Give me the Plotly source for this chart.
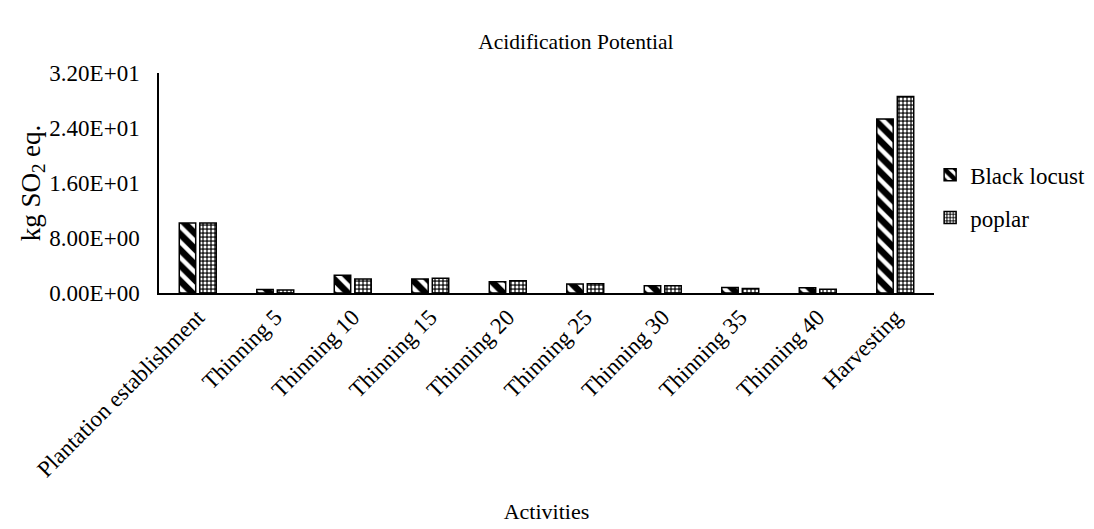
import plotly.graph_objects as go

categories = ["Plantation establishment", "Thinning 5", "Thinning 10", "Thinning 15",
              "Thinning 20", "Thinning 25", "Thinning 30", "Thinning 35", "Thinning 40",
              "Harvesting"]
black_locust = [10.2, 0.5, 2.57, 2.05, 1.65, 1.3, 1.07, 0.8, 0.78, 25.3]
poplar = [10.2, 0.45, 2.03, 2.13, 1.8, 1.35, 1.05, 0.65, 0.55, 28.6]
y_tickvals = [0, 8, 16, 24, 32]
y_ticktext = ["0.00E+00", "8.00E+00", "1.60E+01", "2.40E+01", "3.20E+01"]

FONT = "Liberation Serif, Times New Roman, serif"

fig = go.Figure()
fig.add_trace(go.Bar(
    x=categories, y=black_locust, name="Black locust", legendgroup="a",
    marker=dict(color="white", line=dict(color="black", width=1.5),
                pattern=dict(shape="\\", fgcolor="black", bgcolor="white",
                             size=11, solidity=0.6, fillmode="replace")),
))
fig.add_trace(go.Bar(
    x=categories, y=poplar, name="poplar", legendgroup="b",
    marker=dict(color="black", line=dict(color="black", width=1.5),
                pattern=dict(shape=".", fgcolor="white", bgcolor="#222222",
                             size=4, solidity=0.45, fillmode="replace")),
))

fig.update_layout(
    width=1094, height=529,
    paper_bgcolor="white", plot_bgcolor="white",
    font=dict(family=FONT, size=23, color="black"),
    title=dict(text="Acidification Potential", x=0.519, xanchor="center",
               y=0.936, yanchor="middle", font=dict(family=FONT, size=21.5)),
    margin=dict(l=151, r=166, t=65, b=244),
    barmode="group", bargap=0.47, bargroupgap=0.2,
    showlegend=True,
    legend=dict(x=0.995, xanchor="left", y=0.44, yanchor="middle",
                tracegroupgap=10, font=dict(family=FONT, size=23),
                bgcolor="rgba(0,0,0,0)"),
    xaxis=dict(title=dict(text="Activities", standoff=23, font=dict(family=FONT, size=22)),
               tickangle=-45, showline=True, linecolor="black", linewidth=1.5,
               ticks="", showgrid=False, automargin=False,
               tickfont=dict(family=FONT, size=23)),
    yaxis=dict(title=dict(text="kg SO<sub>2</sub> eq.", font=dict(family=FONT, size=27), standoff=0),
               range=[0, 32], tickvals=y_tickvals, ticktext=y_ticktext,
               showline=True, linecolor="black", linewidth=1.5, ticks="",
               ticklabelstandoff=13, automargin=False,
               showgrid=False, zeroline=False, tickfont=dict(family=FONT, size=23)),
)

fig.write_html("out.html")
